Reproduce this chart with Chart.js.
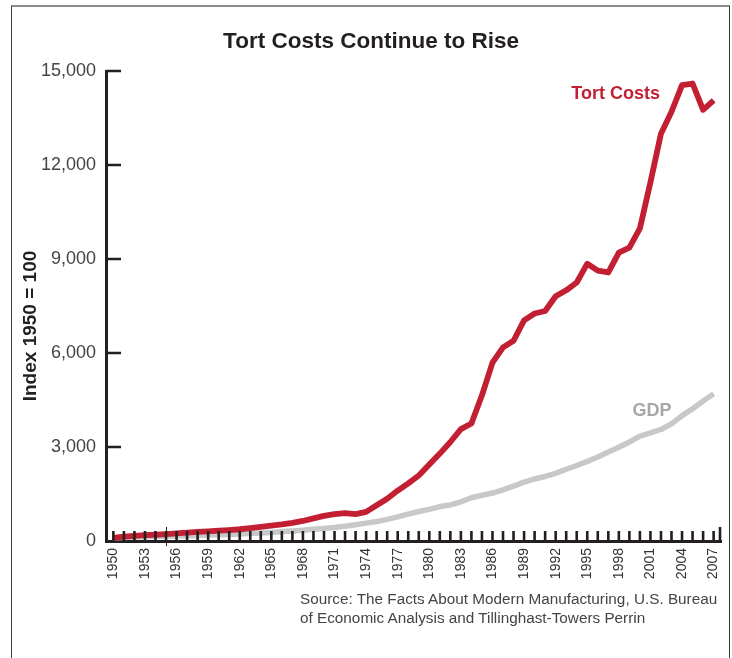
<!DOCTYPE html>
<html>
<head>
<meta charset="utf-8">
<script src="https://cdn.jsdelivr.net/npm/chart.js@4.4.1/dist/chart.umd.min.js"></script>
<style>
  body { margin: 0; background: #fff; }
  #wrap { position: relative; width: 732px; height: 658px; overflow: hidden; }
  #tortChart { position: absolute; left: 0; top: 0; }
  #frame {
    position: absolute; left: 11px; top: 5px; width: 717px; height: 700px;
    border-top: 2px solid #8c8c8c; border-left: 1px solid #3a3a3a; border-right: 1px solid #3a3a3a;
    pointer-events: none;
  }
  #source {
    position: absolute; left: 300px; top: 589px;
    font-family: "Liberation Sans", Arial, sans-serif; font-size: 15.3px; line-height: 19px; color: #444;
  }
</style>
</head>
<body>
<div id="wrap">
  <canvas id="tortChart" width="732" height="658"></canvas>
  <div id="frame"></div>
  <div id="source">Source: The Facts About Modern Manufacturing, U.S. Bureau<br>of Economic Analysis and Tillinghast-Towers Perrin</div>
</div>
<script>
// Роки
const years = [
  1950, 1951, 1952, 1953, 1954, 1955, 1956, 1957, 1958, 1959,
  1960, 1961, 1962, 1963, 1964, 1965, 1966, 1967, 1968, 1969,
  1970, 1971, 1972, 1973, 1974, 1975, 1976, 1977, 1978, 1979,
  1980, 1981, 1982, 1983, 1984, 1985, 1986, 1987, 1988, 1989,
  1990, 1991, 1992, 1993, 1994, 1995, 1996, 1997, 1998, 1999,
  2000, 2001, 2002, 2003, 2004, 2005, 2006, 2007
];

// Індекс витрат на деліктну відповідальність (1950 = 100)
const tortCosts = [
  100, 140, 165, 185, 200, 220, 245, 270, 290, 310,
  330, 350, 375, 410, 450, 490, 530, 580, 640, 720,
  800, 860, 890, 860, 930, 1140, 1350, 1610, 1840, 2090,
  2440, 2790, 3160, 3570, 3750, 4650, 5690, 6180, 6390, 7040,
  7260, 7340, 7810, 8000, 8250, 8850, 8630, 8570, 9200, 9360,
  9980, 11450, 13000, 13700, 14550, 14600, 13760, 14060
];

// Індекс ВВП (1950 = 100)
const gdp = [
  100, 115, 125, 135, 140, 150, 160, 170, 175, 190,
  200, 210, 225, 240, 255, 275, 300, 320, 345, 375,
  400, 430, 470, 520, 570, 620, 690, 770, 860, 940,
  1010, 1100, 1150, 1250, 1380, 1460, 1530, 1630, 1750, 1880,
  1980, 2060, 2160, 2290, 2410, 2540, 2680, 2840, 2990, 3160,
  3350, 3450, 3560, 3740, 4000, 4220, 4470, 4700
];

const yTicks = [0, 3000, 6000, 9000, 12000, 15000];

// Підписи ліній (у координатах даних)
const lineLabels = [
  { text: 'Tort Costs', year: 2001.9, value: 14260, color: '#c21f32' },
  { text: 'GDP', year: 2003.0, value: 4150, color: '#a6a7a9' }
];

const FONT = '"Liberation Sans", Arial, sans-serif';
const INK = '#231f20';

// Внутрішні риски осей, назва осі Y і підписи ліній
const axisDecor = {
  id: 'axisDecor',
  afterDraw(chart) {
    const { ctx, chartArea: a, scales: { x, y } } = chart;
    ctx.save();
    ctx.strokeStyle = INK;
    ctx.lineWidth = 2.6;
    ctx.beginPath();
    years.forEach(yr => {
      const px = x.getPixelForValue(yr);
      ctx.moveTo(px, a.bottom);
      ctx.lineTo(px, a.bottom - 10);
    });
    ctx.moveTo(a.right - 1, a.bottom);
    ctx.lineTo(a.right - 1, a.bottom - 14);
    yTicks.forEach(v => {
      if (v === 0) return;
      const py = y.getPixelForValue(v);
      ctx.moveTo(a.left, py);
      ctx.lineTo(a.left + 15, py);
    });
    ctx.stroke();

    // тонка вертикальна риска біля 1955
    ctx.lineWidth = 1;
    ctx.beginPath();
    const p55 = Math.round(x.getPixelForValue(1955)) + 0.5;
    ctx.moveTo(p55, a.bottom - 14);
    ctx.lineTo(p55, a.bottom + 5);
    ctx.stroke();

    // назва осі Y
    ctx.save();
    ctx.translate(31, (a.top + a.bottom) / 2 + 20);
    ctx.rotate(-Math.PI / 2);
    ctx.fillStyle = INK;
    ctx.font = 'bold 19px ' + FONT;
    ctx.textAlign = 'center';
    ctx.textBaseline = 'middle';
    ctx.fillText('Index 1950 = 100', 0, 0);
    ctx.restore();

    ctx.font = 'bold 18px ' + FONT;
    ctx.textBaseline = 'middle';
    lineLabels.forEach(l => {
      ctx.fillStyle = l.color;
      ctx.textAlign = 'right';
      ctx.fillText(l.text, x.getPixelForValue(l.year), y.getPixelForValue(l.value));
    });
    ctx.restore();
  }
};

const ctx = document.getElementById('tortChart').getContext('2d');
const tortChart = new Chart(ctx, {
  type: 'line',
  data: {
    datasets: [{
      label: 'Tort Costs',
      data: years.map((yr, i) => ({ x: yr, y: tortCosts[i] })),
      borderColor: '#c21f32',
      borderWidth: 5.8,
      pointRadius: 0,
      tension: 0,
      borderJoinStyle: 'round',
      order: 0
    }, {
      label: 'GDP',
      data: years.map((yr, i) => ({ x: yr, y: gdp[i] })),
      borderColor: '#c7c8ca',
      borderWidth: 5.5,
      pointRadius: 0,
      tension: 0,
      borderJoinStyle: 'round',
      order: 1
    }]
  },
  options: {
    responsive: false,
    animation: false,
    devicePixelRatio: 1,
    layout: { padding: { left: 10, right: 0, top: 0, bottom: 0 } },
    plugins: {
      legend: { display: false },
      tooltip: { enabled: false },
      title: {
        display: true,
        text: 'Tort Costs Continue to Rise',
        color: INK,
        font: { family: FONT, size: 22.5, weight: 'bold' },
        padding: { top: 28, bottom: 16 }
      }
    },
    scales: {
      x: {
        type: 'linear',
        min: 1949.3,
        max: 2007.7,
        afterBuildTicks: s => { s.ticks = years.map(v => ({ value: v })); },
        afterFit: s => { s.height = 117; s.paddingLeft = 0; s.paddingRight = 11; },
        grid: { display: false, drawTicks: false },
        border: { display: true, color: INK, width: 3 },
        ticks: {
          autoSkip: false,
          minRotation: 90,
          maxRotation: 90,
          padding: 7,
          color: '#333',
          font: { family: FONT, size: 14 },
          callback: v => ((v - 1950) % 3 === 0 ? String(v) : '')
        }
      },
      y: {
        min: 0,
        max: 15000,
        afterBuildTicks: s => { s.ticks = yTicks.map(v => ({ value: v })); },
        afterFit: s => { s.width = 96; },
        grid: { display: false, drawTicks: false },
        border: { display: true, color: INK, width: 3 },
        ticks: {
          padding: 10,
          color: '#444',
          font: { family: FONT, size: 18 },
          callback: v => v.toLocaleString('en-US')
        }
      }
    }
  },
  plugins: [axisDecor]
});
</script>
</body>
</html>
